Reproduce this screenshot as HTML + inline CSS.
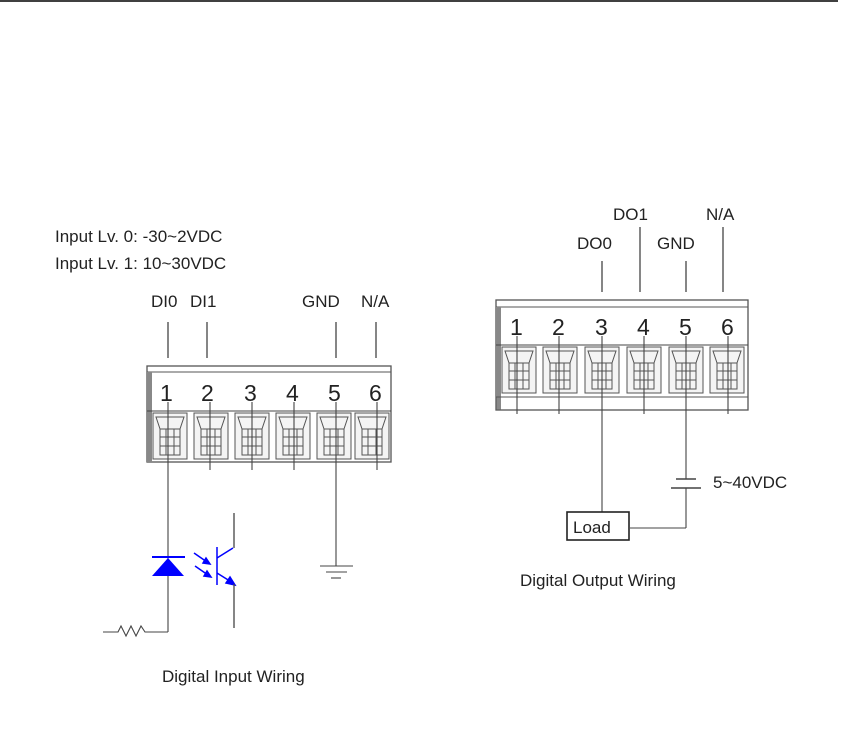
<!DOCTYPE html>
<html><head><meta charset="utf-8"><style>
html,body{margin:0;padding:0;background:#fff;width:853px;height:735px;overflow:hidden}
svg{display:block}
text{font-family:"Liberation Sans",Arial,sans-serif;fill:#222}
</style></head><body>
<svg width="853" height="735" viewBox="0 0 853 735" xmlns="http://www.w3.org/2000/svg">
<defs>
<g id="cell" fill="none" stroke="#555" stroke-width="1">
<rect x="-17" y="0" width="34" height="46" fill="#f4f4f4"/>
<path d="M-14 4 L14 4 L10 16 L10 42 L-10 42 L-10 16 Z"/>
<line x1="-10" y1="16" x2="10" y2="16"/>
<line x1="-10" y1="24" x2="10" y2="24"/>
<line x1="-10" y1="33" x2="10" y2="33"/>
<line x1="-4" y1="16" x2="-4" y2="42"/>
<line x1="4" y1="16" x2="4" y2="42"/>
</g>
</defs>
<line x1="0" y1="1" x2="838" y2="1" stroke="#000" stroke-width="1.5"/>

<!-- Left -->
<text x="55" y="242" font-size="17">Input Lv. 0: -30~2VDC</text>
<text x="55" y="269" font-size="17">Input Lv. 1: 10~30VDC</text>
<text x="151" y="307" font-size="17">DI0</text>
<text x="190" y="307" font-size="17">DI1</text>
<text x="302" y="307" font-size="17">GND</text>
<text x="361" y="307" font-size="17">N/A</text>
<g stroke="#444" stroke-width="1.3">
<line x1="168" y1="322" x2="168" y2="358"/>
<line x1="207" y1="322" x2="207" y2="358"/>
<line x1="336" y1="322" x2="336" y2="358"/>
<line x1="376" y1="322" x2="376" y2="358"/>
</g>
<rect x="147" y="366" width="244" height="96" fill="#fff" stroke="#555" stroke-width="1.3"/>
<line x1="147" y1="372" x2="391" y2="372" stroke="#555"/>
<rect x="147" y="372" width="5" height="90" fill="#888"/>
<line x1="147" y1="411" x2="391" y2="411" stroke="#444"/>
<g transform="translate(0,413)">
<use href="#cell" x="170"/><use href="#cell" x="211"/><use href="#cell" x="252"/>
<use href="#cell" x="293"/><use href="#cell" x="334"/><use href="#cell" x="372"/>
</g>
<g font-size="23"><text x="160" y="401">1</text><text x="201" y="401">2</text><text x="244" y="401">3</text><text x="286" y="401">4</text><text x="328" y="401">5</text><text x="369" y="401">6</text></g>
<g stroke="#444" stroke-width="1.1">
<line x1="168" y1="402" x2="168" y2="632"/><line x1="210" y1="402" x2="210" y2="470"/>
<line x1="252" y1="402" x2="252" y2="470"/><line x1="294" y1="402" x2="294" y2="470"/>
<line x1="336" y1="402" x2="336" y2="566"/><line x1="377" y1="402" x2="377" y2="470"/>
<polyline points="168,632 145,632 141,626 136,636 131,626 126,636 121,626 118,632 103,632" fill="none"/>
<line x1="320" y1="566" x2="353" y2="566"/><line x1="326" y1="572" x2="347" y2="572"/><line x1="331" y1="578" x2="341" y2="578"/>
</g>
<!-- diode -->
<line x1="152" y1="557" x2="185" y2="557" stroke="#00f" stroke-width="2"/>
<polygon points="168,558 152,576 184,576" fill="#00f"/>
<g stroke="#00f" stroke-width="1.5" fill="#00f">
<line x1="194" y1="553" x2="207" y2="562"/><polygon points="210,564 203,563 206,558"/>
<line x1="195" y1="566" x2="208" y2="575"/><polygon points="211,577 204,576 207,571"/>
<line x1="217" y1="547" x2="217" y2="585"/>
<line x1="217" y1="558" x2="233" y2="548"/>
<line x1="217" y1="573" x2="233" y2="583"/><polygon points="235,585 226,583 230,577"/>
</g>
<g stroke="#444" stroke-width="1.3"><line x1="234" y1="513" x2="234" y2="548"/><line x1="234" y1="584" x2="234" y2="628"/></g>
<text x="162" y="682" font-size="17">Digital Input Wiring</text>

<!-- Right -->
<text x="613" y="220" font-size="17">DO1</text>
<text x="706" y="220" font-size="17">N/A</text>
<text x="577" y="249" font-size="17">DO0</text>
<text x="657" y="249" font-size="17">GND</text>
<g stroke="#444" stroke-width="1.3">
<line x1="602" y1="261" x2="602" y2="292"/><line x1="640" y1="227" x2="640" y2="292"/>
<line x1="686" y1="261" x2="686" y2="292"/><line x1="723" y1="227" x2="723" y2="292"/>
</g>
<rect x="496" y="300" width="252" height="110" fill="#fff" stroke="#555" stroke-width="1.3"/>
<line x1="496" y1="307" x2="748" y2="307" stroke="#555"/>
<rect x="496" y="307" width="5" height="103" fill="#888"/>
<line x1="496" y1="345" x2="748" y2="345" stroke="#444"/>
<g transform="translate(0,347)">
<use href="#cell" x="519"/><use href="#cell" x="560"/><use href="#cell" x="602"/>
<use href="#cell" x="644"/><use href="#cell" x="686"/><use href="#cell" x="727"/>
</g>
<rect x="496" y="397" width="252" height="13" fill="none" stroke="#555"/>
<g font-size="23"><text x="510" y="335">1</text><text x="552" y="335">2</text><text x="595" y="335">3</text><text x="637" y="335">4</text><text x="679" y="335">5</text><text x="721" y="335">6</text></g>
<g stroke="#444" stroke-width="1.1">
<line x1="517" y1="336" x2="517" y2="414"/><line x1="559" y1="336" x2="559" y2="414"/>
<line x1="602" y1="336" x2="602" y2="512"/><line x1="644" y1="336" x2="644" y2="414"/>
<line x1="686" y1="336" x2="686" y2="479"/><line x1="728" y1="336" x2="728" y2="414"/>
<line x1="676" y1="479" x2="696" y2="479" stroke-width="1.5"/>
<line x1="671" y1="488" x2="701" y2="488" stroke-width="1.5"/>
<line x1="686" y1="488" x2="686" y2="528"/><line x1="686" y1="528" x2="630" y2="528"/>
</g>
<rect x="567" y="512" width="62" height="28" fill="#fff" stroke="#222" stroke-width="1.6"/>
<text x="573" y="533" font-size="17">Load</text>
<text x="713" y="488" font-size="17">5~40VDC</text>
<text x="520" y="586" font-size="17">Digital Output Wiring</text>
</svg>
</body></html>
